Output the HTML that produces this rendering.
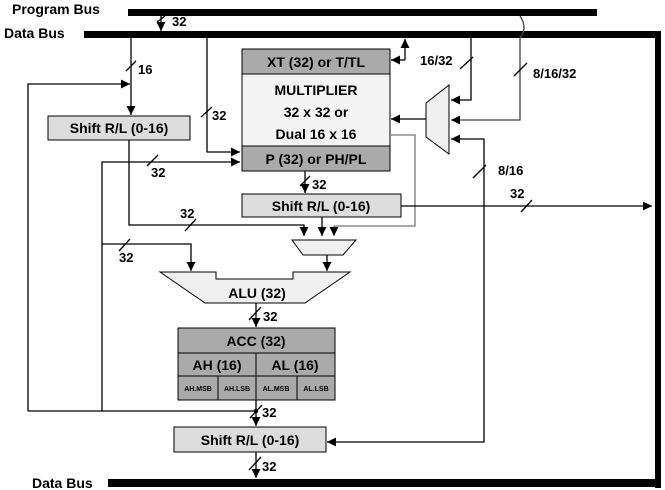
<!DOCTYPE html>
<html><head><meta charset="utf-8"><style>
html,body{margin:0;padding:0;background:#fff;}
svg{display:block;font-family:"Liberation Sans",Arial,sans-serif;font-weight:bold;}
text{font-weight:bold;}
</style></head><body>
<svg width="665" height="490" viewBox="0 0 665 490" xmlns="http://www.w3.org/2000/svg">
<defs>
<marker id="a" viewBox="0 0 10 10" refX="10" refY="5" markerWidth="7" markerHeight="7" orient="auto-start-reverse"><path d="M0,0 L10,5 L0,10 z" fill="#000"/></marker>
</defs>
<text x="12" y="14" font-size="14">Program Bus</text>
<rect x="128" y="9" width="469" height="7" fill="#000"/>
<text x="4" y="38" font-size="14">Data Bus</text>
<rect x="84" y="31" width="577" height="7" fill="#000"/>
<rect x="655" y="31" width="6" height="457" fill="#000"/>
<text x="32" y="488" font-size="14">Data Bus</text>
<rect x="108" y="479" width="553" height="8" fill="#000"/>
<g stroke="#000" stroke-width="1.3" fill="none">
<line x1="161" y1="16" x2="161" y2="31" marker-end="url(#a)"/>
<line x1="157" y1="22" x2="165" y2="16"/>
<line x1="131" y1="38" x2="131" y2="115" marker-end="url(#a)"/>
<line x1="126" y1="71" x2="136" y2="61"/>
<polyline points="28,411 28,84 130,84" marker-end="url(#a)"/>
<polyline points="207,38 207,152 240,152" marker-end="url(#a)"/>
<line x1="201" y1="117" x2="212" y2="107"/>
<line x1="405" y1="60" x2="405" y2="39" marker-end="url(#a)"/>
<line x1="405" y1="60" x2="391" y2="60" marker-end="url(#a)"/>
<polyline points="471,38 471,100 451,100" marker-end="url(#a)"/>
<line x1="460" y1="69" x2="473" y2="57"/>
<path d="M520,16 Q528,28 520,38 L520,120 L451,120" marker-end="url(#a)" stroke="#444"/>
<line x1="514" y1="76" x2="527" y2="63"/>
<line x1="426" y1="119" x2="391" y2="119" marker-end="url(#a)"/>
<polyline points="327,442 484,442 484,139 451,139" marker-end="url(#a)" marker-start="url(#a)"/>
<line x1="473" y1="178" x2="486" y2="165"/>
<polyline points="391,135 415,135 415,226 334,226 334,236" stroke="#777" marker-end="url(#a)"/>
<line x1="305" y1="171" x2="305" y2="193" marker-end="url(#a)"/>
<line x1="300" y1="186" x2="310" y2="176"/>
<line x1="401" y1="206" x2="652" y2="206" marker-end="url(#a)"/>
<line x1="521" y1="212" x2="532" y2="200"/>
<line x1="322" y1="217" x2="322" y2="236" marker-end="url(#a)"/>
<polyline points="129,140 129,225 304,225 304,236" marker-end="url(#a)"/>
<line x1="185" y1="231" x2="196" y2="219"/>
<polyline points="102,411 102,162 240,162" marker-end="url(#a)"/>
<line x1="147" y1="166" x2="158" y2="155"/>
<polyline points="102,244 191,244 191,271" marker-end="url(#a)"/>
<line x1="119" y1="251" x2="130" y2="239"/>
<line x1="327" y1="255" x2="327" y2="271" marker-end="url(#a)"/>
<line x1="256" y1="303" x2="256" y2="327" marker-end="url(#a)"/>
<line x1="249" y1="320" x2="261" y2="307"/>
<line x1="256" y1="400" x2="256" y2="426" marker-end="url(#a)"/>
<line x1="28" y1="411" x2="256" y2="411"/>
<line x1="250" y1="418" x2="262" y2="405"/>
<line x1="256" y1="452" x2="256" y2="478" marker-end="url(#a)"/>
<line x1="249" y1="470" x2="261" y2="457"/>
</g>
<circle cx="256" cy="411" r="2.2" fill="#000"/>
<g stroke="#000" stroke-width="1">
<rect x="48" y="116" width="142" height="24" fill="#ddd"/>
<rect x="242" y="49" width="148" height="25" fill="#aaa"/>
<rect x="242" y="74" width="148" height="72" fill="#f4f4f4"/>
<rect x="242" y="146" width="148" height="25" fill="#aaa"/>
<rect x="242" y="194" width="159" height="23" fill="#ddd"/>
<polygon points="426,103 449,85 449,154 426,137" fill="#f0f0f0"/>
<polygon points="292,240 356,240 343,255 303,255" fill="#f0f0f0"/>
<polygon points="160,272 216,272 216,279 293,279 293,272 350,272 305,303 205,303" fill="#f0f0f0"/>
<rect x="178" y="328" width="157" height="72" fill="#aaa"/>
<line x1="178" y1="353" x2="335" y2="353"/>
<line x1="178" y1="376" x2="335" y2="376"/>
<line x1="256" y1="353" x2="256" y2="400"/>
<line x1="218" y1="376" x2="218" y2="400"/>
<line x1="297" y1="376" x2="297" y2="400"/>
<rect x="174" y="427" width="152" height="25" fill="#ddd"/>
</g>
<g font-size="14" text-anchor="middle">
<text x="119" y="133">Shift R/L (0-16)</text>
<text x="316" y="67">XT (32) or T/TL</text>
<text x="316" y="95">MULTIPLIER</text>
<text x="316" y="117">32 x 32 or</text>
<text x="316" y="139">Dual 16 x 16</text>
<text x="316" y="164">P (32) or PH/PL</text>
<text x="321" y="211">Shift R/L (0-16)</text>
<text x="257" y="298">ALU (32)</text>
<text x="256" y="346">ACC (32)</text>
<text x="217" y="370">AH (16)</text>
<text x="295" y="370">AL (16)</text>
<text x="250" y="445">Shift R/L (0-16)</text>
</g>
<g font-size="7" text-anchor="middle">
<text x="198" y="391">AH.MSB</text>
<text x="237" y="391">AH.LSB</text>
<text x="276" y="391">AL.MSB</text>
<text x="316" y="391">AL.LSB</text>
</g>
<g font-size="13">
<text x="172" y="26">32</text>
<text x="138" y="74">16</text>
<text x="212" y="120">32</text>
<text x="420" y="65">16/32</text>
<text x="533" y="78">8/16/32</text>
<text x="498" y="175">8/16</text>
<text x="151" y="177">32</text>
<text x="312" y="189">32</text>
<text x="510" y="198">32</text>
<text x="180" y="218">32</text>
<text x="119" y="262">32</text>
<text x="263" y="321">32</text>
<text x="262" y="417">32</text>
<text x="262" y="471">32</text>
</g>
</svg>
</body></html>
